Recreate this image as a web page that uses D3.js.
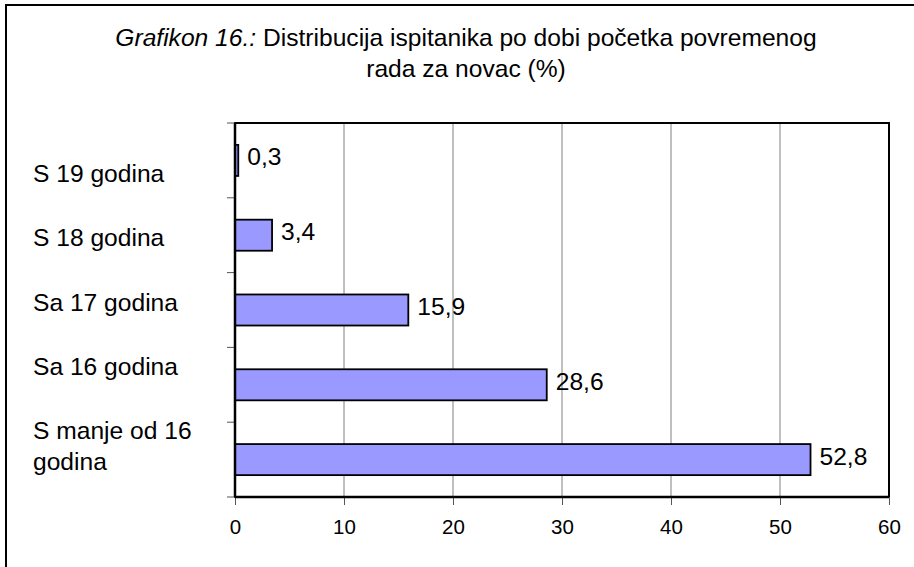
<!DOCTYPE html>
<html>
<head>
    <meta charset="utf-8">
    <script src="https://d3js.org/d3.v7.min.js"></script>
    <title>Grafikon 16</title>
    <style>
      body { margin: 0; background: white; }
      text { font-family: "Liberation Sans", Arial, sans-serif; fill: black; }
    </style>
</head>
<body>
    <svg id="chart" width="914" height="567"></svg>

    <script>
    // data, top to bottom
    const categories = ["S 19 godina", "S 18 godina", "Sa 17 godina", "Sa 16 godina", "S manje od 16 godina"];
    const labelLines = [["S 19 godina"], ["S 18 godina"], ["Sa 17 godina"], ["Sa 16 godina"], ["S manje od 16", "godina"]];
    const values = [0.3, 3.4, 15.9, 28.6, 52.8];
    const valueLabels = ["0,3", "3,4", "15,9", "28,6", "52,8"];
    const xTicks = [0, 10, 20, 30, 40, 50, 60];

    const svg = d3.select("svg#chart");
    const plot = {"left": 235, "right": 889, "top": 123, "bottom": 497};
    const fontBig = 24.6;

    // outer frame (cut off on the right and bottom like the original)
    svg.append("rect")
       .attr("x", 6).attr("y", 5)
       .attr("width", 1000).attr("height", 700)
       .attr("fill", "white")
       .attr("stroke", "black")
       .attr("stroke-width", 2);

    // title
    const title = svg.append("text")
                     .attr("x", 466)
                     .attr("y", 46)
                     .attr("text-anchor", "middle")
                     .attr("font-size", fontBig);
    title.append("tspan").attr("font-style", "italic").text("Grafikon 16.:");
    title.append("tspan").text(" Distribucija ispitanika po dobi početka povremenog");
    svg.append("text")
       .attr("x", 466)
       .attr("y", 77)
       .attr("text-anchor", "middle")
       .attr("font-size", fontBig)
       .text("rada za novac (%)");

    const x = d3.scaleLinear().domain([0, 60]).range([plot.left, plot.right]);
    const y = d3.scaleBand().domain(categories).range([plot.top, plot.bottom]).padding(0);
    const barH = y.bandwidth() * 0.415;

    // grid lines
    svg.append("g").selectAll("line")
       .data(xTicks.slice(1, -1))
       .join("line")
       .attr("x1", d => x(d)).attr("x2", d => x(d))
       .attr("y1", plot.top).attr("y2", plot.bottom)
       .attr("stroke", "#808080")
       .attr("stroke-width", 1);

    // plot frame top/right
    svg.append("rect")
       .attr("x", plot.left).attr("y", plot.top)
       .attr("width", plot.right - plot.left)
       .attr("height", plot.bottom - plot.top)
       .attr("fill", "none")
       .attr("stroke", "black")
       .attr("stroke-width", 2);

    // bars
    svg.append("g").selectAll("rect")
       .data(values)
       .join("rect")
       .attr("x", x(0))
       .attr("y", (d, i) => y(categories[i]) + y.bandwidth() / 2 - barH / 2)
       .attr("width", d => x(d) - x(0))
       .attr("height", barH)
       .attr("fill", "#9999ff")
       .attr("stroke", "black")
       .attr("stroke-width", 1.8);

    // value labels
    svg.append("g").selectAll("text")
       .data(values)
       .join("text")
       .attr("x", d => x(d) + 9)
       .attr("y", (d, i) => y(categories[i]) + y.bandwidth() / 2 + 5)
       .attr("font-size", fontBig)
       .text((d, i) => valueLabels[i]);

    // bottom axis
    const xAxis = svg.append("g")
       .attr("transform", `translate(0,${plot.bottom})`)
       .call(d3.axisBottom(x).tickValues(xTicks).tickSize(8).tickPadding(14).tickFormat(d3.format("d")));
    xAxis.select(".domain").remove();
    xAxis.selectAll(".tick line").attr("stroke", "#555");
    xAxis.selectAll(".tick text")
         .attr("font-size", 20.5)
         .attr("font-family", "Liberation Sans, Arial, sans-serif");

    // left axis ticks on category boundaries
    const bounds = categories.map(c => y(c)).concat([plot.bottom]);
    svg.append("g").selectAll("line")
       .data(bounds)
       .join("line")
       .attr("x1", plot.left - 8).attr("x2", plot.left)
       .attr("y1", d => d).attr("y2", d => d)
       .attr("stroke", "#555")
       .attr("stroke-width", 1);

    // axis lines
    svg.append("line")
       .attr("x1", plot.left).attr("x2", plot.left)
       .attr("y1", plot.top).attr("y2", plot.bottom)
       .attr("stroke", "black").attr("stroke-width", 2.5);
    svg.append("line")
       .attr("x1", plot.left).attr("x2", plot.right)
       .attr("y1", plot.bottom).attr("y2", plot.bottom)
       .attr("stroke", "black").attr("stroke-width", 2.5);

    // category labels (spaced like the original, not quite on the band centres)
    const labelY = d3.scaleLinear().domain([0, categories.length - 1]).range([182, 439]);
    const catLabels = svg.append("g").selectAll("text")
       .data(labelLines)
       .join("text")
       .attr("x", 33)
       .attr("y", (d, i) => labelY(i))
       .attr("font-size", fontBig);
    catLabels.selectAll("tspan")
       .data(d => d)
       .join("tspan")
       .attr("x", 33)
       .attr("dy", (d, j) => j === 0 ? 0 : 31)
       .text(d => d);
    </script>
</body>
</html>
